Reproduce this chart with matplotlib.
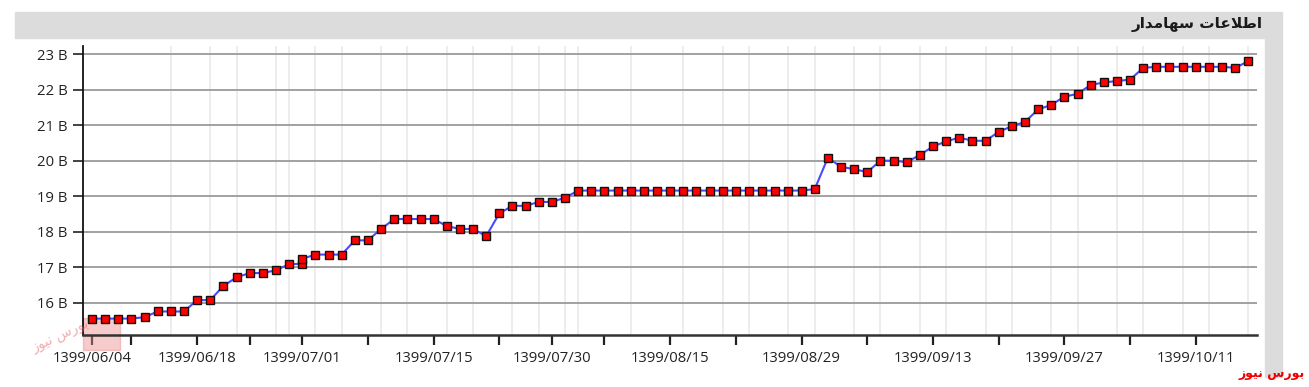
import matplotlib
matplotlib.use("Agg")
import matplotlib.pyplot as plt
from matplotlib.patches import Rectangle

# ---------------- data ----------------
# trading-session index of each observation (session 16 has two records)
session = list(range(0, 17)) + [16] + list(range(17, 89))
holders_value_b = [
    15.56, 15.56, 15.56, 15.56, 15.60, 15.76, 15.76, 15.76, 16.08, 16.08,
    16.48, 16.72, 16.84, 16.84, 16.92, 17.09, 17.10, 17.24, 17.36, 17.36,
    17.36, 17.76, 17.76, 18.08, 18.36, 18.36, 18.36, 18.36, 18.16, 18.08,
    18.08, 17.88, 18.52, 18.73, 18.73, 18.84, 18.84, 18.96, 19.16, 19.16,
    19.16, 19.16, 19.16, 19.16, 19.16, 19.16, 19.16, 19.16, 19.16, 19.16,
    19.16, 19.16, 19.16, 19.16, 19.16, 19.16, 19.20, 20.08, 19.83, 19.76,
    19.68, 20.00, 20.00, 19.96, 20.16, 20.40, 20.54, 20.65, 20.56, 20.56,
    20.81, 20.97, 21.09, 21.44, 21.57, 21.80, 21.88, 22.13, 22.20, 22.24,
    22.28, 22.61, 22.64, 22.64, 22.64, 22.64, 22.64, 22.64, 22.61, 22.80,
]
tick_sessions = [0, 3, 8, 12, 16, 21, 26, 31, 35, 39, 44, 49, 54, 59, 64, 69, 74, 79, 84]
tick_labels = ['1399/06/04', '', '1399/06/18', '', '1399/07/01', '', '1399/07/15', '',
               '1399/07/30', '', '1399/08/15', '', '1399/08/29', '', '1399/09/13', '',
               '1399/09/27', '', '1399/10/11']
grid_sessions = [0, 3, 6, 9, 11, 14, 15, 17, 19, 22, 24, 27, 29, 32, 34, 36, 37, 39, 41,
                 44, 45, 48, 50, 53, 55, 58, 60, 63, 65, 68, 70, 73, 75, 78, 80, 83, 85, 88]
y_ticks = [16, 17, 18, 19, 20, 21, 22, 23]
y_labels = [f"{v} B" for v in y_ticks]

# Persian strings (pre-shaped presentation forms, visual order)
title_txt = "\uFEAD\uFE8D\uFEAA\uFEE3\uFE8E\uFEEC\uFEB3 \uFE95\uFE8E\uFECB\uFEFC\uFEC3\uFE8D"   # اطلاعات سهامدار
brand_txt = "\uFEAF\uFEEE\uFEF4\uFEE7 \uFEB1\uFEAD\uFEEE\uFE91"                               # بورس نیوز

# ---------------- figure ----------------
W, H = 1309, 387
fig = plt.figure(figsize=(W / 100, H / 100), dpi=100, facecolor='white')

def fx(px):
    return px / W

def fy(py):
    return 1 - py / H

# header bar and right frame strip
fig.patches.append(Rectangle((fx(15), fy(38)), fx(1282) - fx(15), fy(12) - fy(38),
                             transform=fig.transFigure, color='#dcdcdc', zorder=0))
fig.patches.append(Rectangle((fx(1265), fy(377)), fx(1282) - fx(1265), fy(38) - fy(377),
                             transform=fig.transFigure, color='#dcdcdc', zorder=0))
fig.text(fx(1263), fy(25), title_txt, ha='right', va='center', fontsize=11,
         fontweight='bold', color='#1a1a1a', family=['DejaVu Sans'])

ax = fig.add_axes([fx(83), fy(335.3), fx(1257) - fx(83), fy(46) - fy(335.3)])
ax.set_facecolor('white')

ax.plot(session, holders_value_b, color='#4a4aff', lw=1.5, zorder=3,
        marker='s', markersize=5.4, markerfacecolor='#ff0000',
        markeredgecolor='#111111', markeredgewidth=1.0)

ax.set_xlim(-0.685, 88.66)
ax.set_ylim(15.09, 23.225)

ax.set_yticks(y_ticks)
ax.set_yticklabels(y_labels)
ax.set_xticks(tick_sessions)
ax.set_xticklabels(tick_labels)
ax.set_xticks(grid_sessions, minor=True)

ax.grid(axis='y', which='major', color='#9a9a9a', lw=1.3, zorder=1)
ax.grid(axis='x', which='minor', color='#e8e8e8', lw=1.1, zorder=0)
ax.grid(axis='x', which='major', visible=False)
ax.set_axisbelow(True)

for s in ['top', 'right']:
    ax.spines[s].set_visible(False)
ax.spines['left'].set_color('#111111')
ax.spines['left'].set_linewidth(1.3)
ax.spines['bottom'].set_color('#333333')
ax.spines['bottom'].set_linewidth(1.8)

ax.tick_params(axis='x', which='major', length=7, width=1.6, color='#222222',
               pad=4, labelsize=10.7, labelcolor='#222222')
ax.tick_params(axis='x', which='minor', length=0)
ax.tick_params(axis='y', which='major', length=7, width=1.2, color='#222222',
               pad=4, labelsize=10.7, labelcolor='#222222')
for lab in ax.get_xticklabels() + ax.get_yticklabels():
    lab.set_family('Open Sans')

# watermark logo (approximation), drawn beneath the data line
ax.add_patch(Rectangle((fx(83), fy(350)), fx(120) - fx(83), fy(318) - fy(350),
                       transform=fig.transFigure, color='#eb8c8c', alpha=0.45,
                       zorder=2, clip_on=False))
fig.text(fx(60), fy(336), brand_txt, ha='center', va='center', fontsize=10,
         color='#e06060', alpha=0.5, rotation=25, family=['DejaVu Sans'])

# brand text bottom right
fig.text(fx(1305), fy(373), brand_txt, ha='right', va='center', fontsize=9,
         fontweight='bold', color='#ee0000', family=['DejaVu Sans'])

fig.savefig('out.png', dpi=100, facecolor='white')
